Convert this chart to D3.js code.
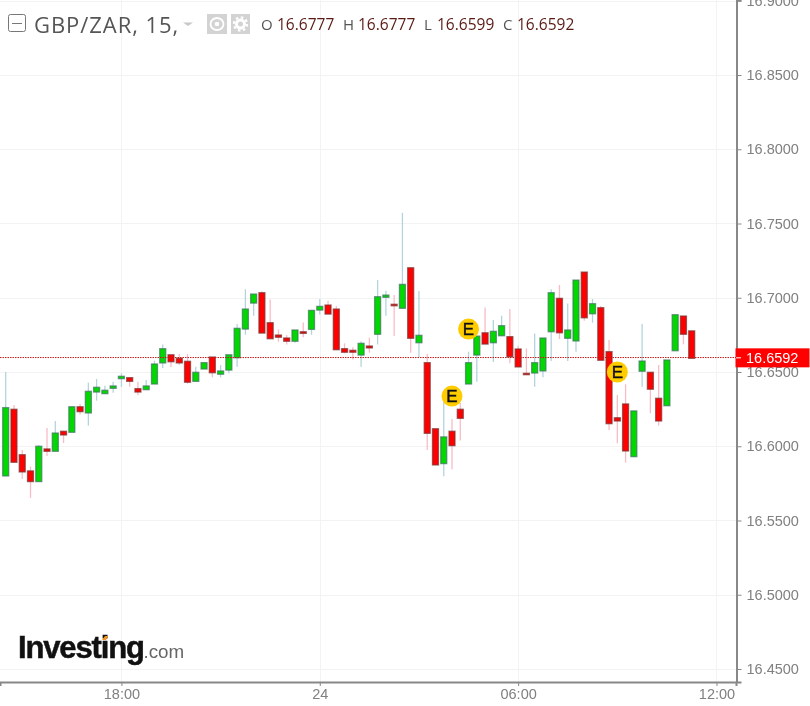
<!DOCTYPE html>
<html><head><meta charset="utf-8">
<script src="https://cdnjs.cloudflare.com/ajax/libs/d3/7.8.5/d3.min.js"></script>
<style>html,body{margin:0;padding:0;background:#fff;overflow:hidden}svg{display:block;filter:blur(.3px)}</style>
</head><body><svg id="c" width="810" height="706"></svg>
<script>
const symbolTitle = "GBP/ZAR, 15,";
const headerLabels = ["O","H","L","C"];
const headerValues = ["16.6777","16.6777","16.6599","16.6592"];
const firstBarTime = "2018-01-23T14:30:00Z";
const lastPrice = 16.6592;
const priceTicks = [16.45,16.5,16.55,16.6,16.65,16.7,16.75,16.8,16.85,16.9];
const timeTicks = ["2018-01-23T18:00:00Z","2018-01-24T00:00:00Z","2018-01-24T06:00:00Z","2018-01-24T12:00:00Z"];
const timeTickLabels = ["18:00","24","06:00","12:00"];
const opens = [16.5800,16.6249,16.5943,16.5834,16.5762,16.5982,16.5966,16.6101,16.6094,16.6266,16.6224,16.6365,16.6354,16.6390,16.6455,16.6462,16.6388,16.6381,16.6419,16.6561,16.6616,16.6592,16.6572,16.6437,16.6520,16.6601,16.6485,16.6513,16.6596,16.6789,16.6964,16.7034,16.6832,16.6749,16.6729,16.6707,16.6771,16.6787,16.6917,16.6951,16.6924,16.6657,16.6646,16.6614,16.6675,16.6754,16.7003,16.6956,16.6929,16.7202,16.6697,16.6563,16.6118,16.5883,16.6101,16.6249,16.6419,16.6614,16.6764,16.6697,16.6744,16.6738,16.6655,16.6491,16.6493,16.6507,16.6771,16.6996,16.6727,16.6709,16.7173,16.6892,16.6933,16.6637,16.6192,16.6285,16.5930,16.6505,16.6498,16.6323,16.6273,16.6643,16.6877,16.6777];
const highs = [16.6500,16.6278,16.5975,16.5863,16.6009,16.6123,16.6170,16.6101,16.6266,16.6285,16.6428,16.6453,16.6408,16.6435,16.6491,16.6462,16.6435,16.6446,16.6576,16.6686,16.6616,16.6621,16.6621,16.6536,16.6563,16.6601,16.6547,16.6616,16.6823,16.7057,16.7025,16.7043,16.6989,16.6787,16.6749,16.6783,16.6834,16.6915,16.6991,16.6980,16.6944,16.6693,16.6666,16.6707,16.6731,16.7119,16.7047,16.7018,16.7572,16.7202,16.7045,16.6621,16.6118,16.6332,16.6184,16.6291,16.6637,16.6742,16.6935,16.6850,16.6879,16.6924,16.6677,16.6659,16.6760,16.6729,16.7057,16.7086,16.6962,16.7119,16.7173,16.6991,16.6944,16.6715,16.6345,16.6417,16.6238,16.6823,16.6498,16.6547,16.6581,16.6886,16.6877,16.6777];
const lows = [16.5800,16.5892,16.5780,16.5652,16.5762,16.5935,16.5966,16.6022,16.6094,16.6213,16.6139,16.6307,16.6354,16.6361,16.6399,16.6401,16.6343,16.6381,16.6419,16.6527,16.6534,16.6547,16.6421,16.6437,16.6520,16.6464,16.6464,16.6491,16.6536,16.6751,16.6879,16.6762,16.6724,16.6704,16.6686,16.6697,16.6734,16.6751,16.6888,16.6890,16.6650,16.6626,16.6585,16.6536,16.6630,16.6685,16.6879,16.6742,16.6929,16.6630,16.6599,16.5975,16.5874,16.5798,16.5845,16.6038,16.6419,16.6435,16.6688,16.6567,16.6744,16.6559,16.6534,16.6482,16.6401,16.6464,16.6574,16.6722,16.6574,16.6637,16.6845,16.6832,16.6579,16.6110,16.6020,16.5890,16.5930,16.6401,16.6222,16.6139,16.6273,16.6643,16.6686,16.6592];
const closes = [16.6260,16.5892,16.5827,16.5762,16.6000,16.5966,16.6089,16.6076,16.6266,16.6233,16.6370,16.6397,16.6377,16.6406,16.6471,16.6437,16.6365,16.6406,16.6554,16.6657,16.6569,16.6561,16.6431,16.6498,16.6563,16.6495,16.6507,16.6616,16.6794,16.6924,16.7025,16.6762,16.6724,16.6734,16.6707,16.6783,16.6760,16.6915,16.6942,16.6890,16.6650,16.6633,16.6633,16.6693,16.6662,16.7007,16.7018,16.6946,16.7090,16.6727,16.6747,16.6087,16.5874,16.6063,16.6004,16.6188,16.6563,16.6742,16.6688,16.6774,16.6812,16.6603,16.6534,16.6482,16.6563,16.6729,16.7034,16.6764,16.6783,16.7119,16.6865,16.6960,16.6579,16.6152,16.6170,16.5968,16.6238,16.6574,16.6384,16.6170,16.6581,16.6886,16.6754,16.6592];
const eventBars = [54,56,74];
const eventPrices = [16.6338,16.6789,16.6500];
const eventLabel = "E";

const UP="#00d800", DOWN="#ff0000";
const W=810,H=706,axisX=736,axisY=682;
const svg=d3.select("#c");
const t0=new Date(firstBarTime).getTime();
const barTime=i=>new Date(t0+i*15*60000);
const yScale=d3.scaleLinear().domain([16.65-(682-372)/1485,16.65+372/1485]).range([axisY,0]);
const xScale=d3.scaleTime().domain([barTime(-0.69),barTime(88.36)]).range([0,axisX]);
const bars=opens.map((o,i)=>({i,o,h:highs[i],l:lows[i],c:closes[i],t:barTime(i),up:closes[i]>=o}));
const sharp=v=>Math.round(v)+.5;
const tDates=timeTicks.map(d=>new Date(d));
const SANS="'Liberation Sans',Arial,sans-serif", OPEN="'Open Sans',sans-serif";

const grid=svg.append("g");
grid.selectAll("line.h").data(priceTicks).join("line").attr("x1",0).attr("x2",axisX)
 .attr("y1",d=>sharp(yScale(d))).attr("y2",d=>sharp(yScale(d))).attr("stroke","#f3f3f3");
grid.selectAll("line.v").data(tDates).join("line").attr("y1",0).attr("y2",axisY)
 .attr("x1",d=>sharp(xScale(d))).attr("x2",d=>sharp(xScale(d))).attr("stroke","#f3f3f3");

const g=svg.append("g");
g.selectAll("line.w").data(bars).join("line").attr("x1",d=>xScale(d.t)).attr("x2",d=>xScale(d.t))
 .attr("y1",d=>yScale(d.h)).attr("y2",d=>yScale(d.l)).attr("stroke-width",1.3)
 .attr("stroke",d=>d.up?"#b4d4dd":"#f8bcc6");
g.selectAll("rect.b").data(bars).join("rect")
 .attr("x",d=>xScale(d.t)-3).attr("width",6)
 .attr("y",d=>yScale(Math.max(d.o,d.c))).attr("height",d=>Math.max(1,Math.abs(yScale(d.o)-yScale(d.c))))
 .attr("fill",d=>d.up?UP:DOWN)
 .attr("stroke",d=>d.up?"#3f7560":"#7e2f2f").attr("stroke-opacity",.7).attr("stroke-width",1.3);

svg.append("line").attr("x1",0).attr("x2",axisX).attr("y1",yScale(lastPrice)-.8).attr("y2",yScale(lastPrice)-.8)
 .attr("stroke","#c01a1a").attr("stroke-dasharray","1.5 1");

const ev=svg.append("g").selectAll("g").data(eventBars).join("g")
 .attr("transform",(d,i)=>`translate(${xScale(barTime(d))},${yScale(eventPrices[i])})`);
ev.append("circle").attr("r",10.5).attr("fill","#ffcc00");
ev.append("text").text(eventLabel).attr("text-anchor","middle").attr("y",6.2)
 .attr("font-family",SANS).attr("font-size",17).attr("fill","#111").attr("stroke","#111").attr("stroke-width",.4);

const yAxis=d3.axisRight(yScale).tickValues(priceTicks).tickFormat(d3.format(".4f")).tickSize(5).tickPadding(5);
const ya=svg.append("g").attr("transform",`translate(${axisX+.5},0)`).call(yAxis);
ya.select(".domain").attr("stroke","#888").attr("stroke-width",2);
ya.selectAll(".tick line").attr("stroke","#888");
ya.selectAll("text").attr("font-family",SANS).attr("font-size",14.5).attr("fill","#808080");
const xAxis=d3.axisBottom(xScale).tickValues(tDates).tickFormat((d,i)=>timeTickLabels[i]).tickSize(4).tickPadding(3);
const xa=svg.append("g").attr("transform",`translate(0,${axisY})`).call(xAxis);
xa.select(".domain").attr("stroke","#888").attr("stroke-width",2);
xa.selectAll(".tick line").attr("stroke","#888");
xa.selectAll("text").attr("font-family",SANS).attr("font-size",14.5).attr("fill","#808080");

svg.append("rect").attr("x",axisX-.5).attr("y",yScale(lastPrice)-10).attr("width",W-axisX).attr("height",19).attr("fill","#ff0000");
svg.append("line").attr("x1",axisX).attr("x2",axisX+5).attr("y1",yScale(lastPrice)-.5).attr("y2",yScale(lastPrice)-.5).attr("stroke","#fff");
svg.append("text").text(d3.format(".4f")(lastPrice)).attr("x",746).attr("y",yScale(lastPrice)+5)
 .attr("font-family",SANS).attr("font-size",14.5).attr("fill","#fff");

const head=svg.append("g");
head.append("rect").attr("x",8.5).attr("y",14.5).attr("width",17).attr("height",17).attr("rx",2).attr("fill","#fff").attr("stroke","#777");
head.append("line").attr("x1",12).attr("x2",22).attr("y1",23.5).attr("y2",23.5).attr("stroke","#777");
head.append("text").text(symbolTitle).attr("x",34).attr("y",33).attr("font-family",OPEN).attr("font-size",22).attr("letter-spacing",.95).attr("fill","#555");
head.append("path").attr("d","M183 22.5h10l-5 3.5z").attr("fill","#c8c8c8");
head.append("rect").attr("x",207).attr("y",14).attr("width",20).attr("height",20).attr("fill","#d3d3d3");
head.append("rect").attr("x",231).attr("y",14).attr("width",19).attr("height",20).attr("fill","#d3d3d3");
head.append("ellipse").attr("cx",217).attr("cy",24).attr("rx",6.5).attr("ry",6).attr("fill","none").attr("stroke","#fff").attr("stroke-width",1.8);
head.append("circle").attr("cx",217).attr("cy",24).attr("r",2.3).attr("fill","#fff");
head.append("circle").attr("cx",240.5).attr("cy",24).attr("r",4).attr("fill","none").attr("stroke","#fff").attr("stroke-width",3);
head.append("circle").attr("cx",240.5).attr("cy",24).attr("r",6.6).attr("fill","none").attr("stroke","#fff").attr("stroke-width",2.2).attr("stroke-dasharray","2.6 2.6");
const lx=[261,343,424,503], vx=[277,358,437,517];
headerLabels.forEach((l,i)=>{
 head.append("text").text(l).attr("x",lx[i]).attr("y",30).attr("font-family",OPEN).attr("font-size",15).attr("fill","#555");
 head.append("text").text(headerValues[i]).attr("x",vx[i]).attr("y",30).attr("font-family",OPEN).attr("font-size",15.5).attr("fill","#5a1a14");
});

const logo=svg.append("g");
logo.append("text").text("Investing").attr("x",18).attr("y",658).attr("font-family",SANS).attr("font-weight",700).attr("font-size",31).attr("letter-spacing",-1.15).attr("fill","#111").attr("stroke","#111").attr("stroke-width",.5);
logo.append("text").text(".com").attr("x",143.5).attr("y",658).attr("font-family",SANS).attr("font-size",18.8).attr("fill","#666");
logo.append("path").attr("d","M102 640l3-4h3l-2 4z").attr("fill","#f7941d");
</script></body></html>
